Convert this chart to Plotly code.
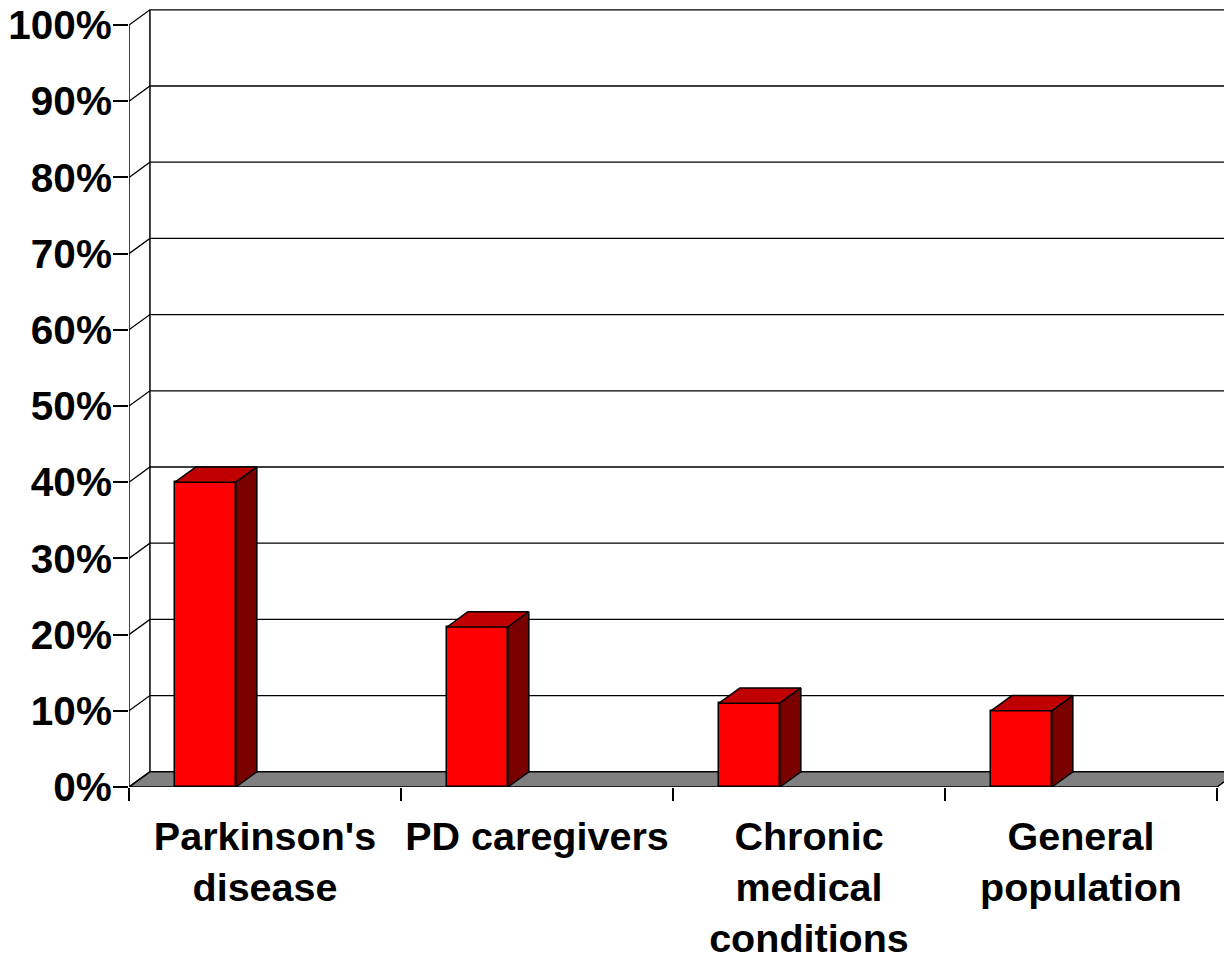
import plotly.graph_objects as go

# Data
categories = ["Parkinson's<br>disease", "PD caregivers", "Chronic<br>medical<br>conditions", "General<br>population"]
values = [40, 21, 11, 10]
y_ticks = [0, 10, 20, 30, 40, 50, 60, 70, 80, 90, 100]
y_tick_labels = [f"{v}%" for v in y_ticks]

# 3-D look: depth offset in data units
DX = 0.077
DY = 2.0
BAR_OFFSET = -0.331
BAR_WIDTH = 0.224
X_LEFT, X_RIGHT = -0.5, len(categories) - 0.5

FRONT = "#FF0000"
TOP = "#C00000"
SIDE = "#7A0000"
FLOOR = "#808080"
EDGE = dict(color="black", width=1.5)

fig = go.Figure()

# Front faces of the bars
fig.add_trace(go.Bar(
    x=list(range(len(values))), y=values, base=0,
    offset=BAR_OFFSET, width=BAR_WIDTH,
    marker=dict(color=FRONT, line=EDGE),
    hoverinfo="skip", showlegend=False,
))

# Top and side faces
for i, v in enumerate(values):
    x0 = i + BAR_OFFSET
    x1 = x0 + BAR_WIDTH
    fig.add_trace(go.Scatter(
        x=[x0, x1, x1 + DX, x0 + DX, x0],
        y=[v, v, v + DY, v + DY, v],
        mode="lines", fill="toself", fillcolor=TOP, line=EDGE,
        hoverinfo="skip", showlegend=False,
    ))
    fig.add_trace(go.Scatter(
        x=[x1, x1 + DX, x1 + DX, x1, x1],
        y=[0, DY, v + DY, v, 0],
        mode="lines", fill="toself", fillcolor=SIDE, line=EDGE,
        hoverinfo="skip", showlegend=False,
    ))

shapes = []
# Floor
shapes.append(dict(
    type="path", layer="below",
    path=f"M {X_LEFT},0 L {X_RIGHT},0 L {X_RIGHT + DX},{DY} L {X_LEFT + DX},{DY} Z",
    fillcolor=FLOOR, line=EDGE,
))
# Wall gridlines with side-wall diagonals
for v in y_ticks[1:]:
    shapes.append(dict(
        type="path", layer="below",
        path=f"M {X_LEFT},{v} L {X_LEFT + DX},{v + DY} L {X_RIGHT + DX + 0.2},{v + DY}",
        line=dict(color="black", width=1.3),
    ))
shapes.append(dict(type="line", layer="below", x0=X_LEFT, x1=X_LEFT + DX, y0=0, y1=DY,
                   line=dict(color="black", width=1.3)))
# Front axis edge and back wall edge
shapes.append(dict(type="line", layer="below", x0=X_LEFT, x1=X_LEFT, y0=0, y1=100,
                   line=dict(color="black", width=1.5)))
shapes.append(dict(type="line", layer="below", x0=X_LEFT + DX, x1=X_LEFT + DX, y0=DY, y1=100 + DY,
                   line=dict(color="black", width=1.5)))

x_font = dict(family="Arial, Liberation Sans, sans-serif", size=39.5, color="black", weight="bold")
y_font = dict(family="Arial, Liberation Sans, sans-serif", size=40.5, color="black", weight="bold")

fig.update_layout(
    width=1224, height=960,
    margin=dict(l=129, r=0, t=6, b=173),
    plot_bgcolor="white", paper_bgcolor="white",
    shapes=shapes,
    bargap=0,
    xaxis=dict(
        range=[X_LEFT, X_LEFT + 1095 / 272],
        tickmode="array", tickvals=list(range(len(categories))), ticktext=categories,
        ticks="", showgrid=False, zeroline=False, showline=False,
        tickfont=x_font, ticklabelstandoff=22, automargin=False,
        minor=dict(tickmode="array", tickvals=[X_LEFT + k for k in range(len(categories) + 1)],
                   ticks="outside", ticklen=13, tickwidth=1.5, tickcolor="black", showgrid=False),
        fixedrange=True,
    ),
    yaxis=dict(
        range=[0, 102.5],
        tickmode="array", tickvals=y_ticks, ticktext=y_tick_labels,
        ticks="outside", ticklen=15, tickwidth=1.5, tickcolor="black",
        showgrid=False, zeroline=False, showline=False,
        tickfont=y_font, ticklabelstandoff=-7, automargin=False,
        fixedrange=True,
    ),
)

fig.write_html("out.html")
